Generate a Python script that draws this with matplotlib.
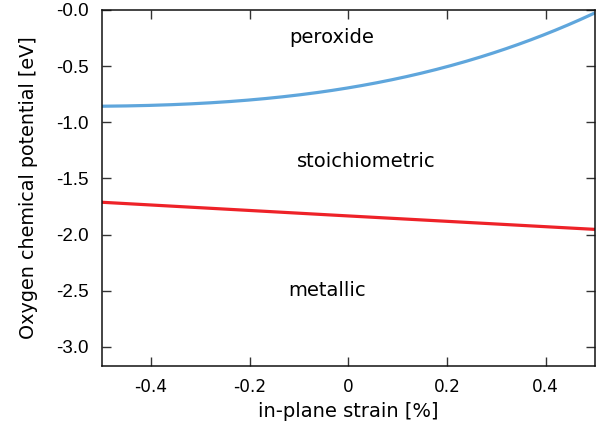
import matplotlib
matplotlib.use("Agg")
import matplotlib.pyplot as plt
import numpy as np

# data
strain = [-0.5, -0.4, -0.3, -0.2, -0.1, 0.0, 0.1, 0.2, 0.3, 0.4, 0.5]
peroxide_boundary = [-0.853, -0.856, -0.839, -0.800, -0.750, -0.687, -0.615, -0.515, -0.378, -0.205, -0.03]
metal_strain = [-0.5, -0.25, 0.0, 0.25, 0.5]
metallic_boundary = [-1.712, -1.775, -1.835, -1.893, -1.955]

yticks = [-3.0, -2.5, -2.0, -1.5, -1.0, -0.5, 0.0]
ytick_labels = ["-3.0", "-2.5", "-2.0", "-1.5", "-1.0", "-0.5", "-0.0"]
xticks = [-0.4, -0.2, 0.0, 0.2, 0.4]
xtick_labels = ["-0.4", "-0.2", "0", "0.2", "0.4"]

fig = plt.figure(figsize=(6.01, 4.29), dpi=100)
ax = fig.add_axes([0.169, 0.147, 0.821, 0.830])

xs = np.linspace(-0.5, 0.5, 200)
# smooth curves through read points (polynomial fit of read values)
pb = np.polyval(np.polyfit(strain, peroxide_boundary, 3), xs)
mb = np.polyval(np.polyfit(metal_strain, metallic_boundary, 2), xs)
ax.plot(xs, pb, color="#5fa6dc", lw=2.3, solid_capstyle="butt")
ax.plot(xs, mb, color="#ee2228", lw=2.3, solid_capstyle="butt")

ax.set_xlim(-0.5, 0.5)
ax.set_ylim(-3.17, -0.027)

ax.set_yticks(yticks)
ax.set_yticklabels(ytick_labels, fontfamily="Liberation Sans", fontsize=13.5)
ax.set_xticks(xticks)
ax.set_xticklabels(xtick_labels, fontfamily="DejaVu Sans", fontsize=12.2)
ax.tick_params(direction="in", length=6.5, width=1, top=True, right=True, color="#333333")
ax.tick_params(axis="y", pad=9)
ax.tick_params(axis="x", pad=9)
for s in ax.spines.values():
    s.set_linewidth(1.1)
    s.set_color("#111111")

ax.set_xlabel("in-plane strain [%]", fontfamily="DejaVu Sans", fontsize=14, labelpad=4)
ax.set_ylabel("Oxygen chemical potential [eV]", fontfamily="DejaVu Sans", fontsize=13.8, labelpad=13)

ax.text(-0.034, -0.25, "peroxide", ha="center", va="center", fontsize=14, fontfamily="DejaVu Sans")
ax.text(0.037, -1.353, "stoichiometric", ha="center", va="center", fontsize=14, fontfamily="DejaVu Sans")
ax.text(-0.044, -2.5, "metallic", ha="center", va="center", fontsize=14, fontfamily="DejaVu Sans")

fig.savefig("out.png", dpi=100)
